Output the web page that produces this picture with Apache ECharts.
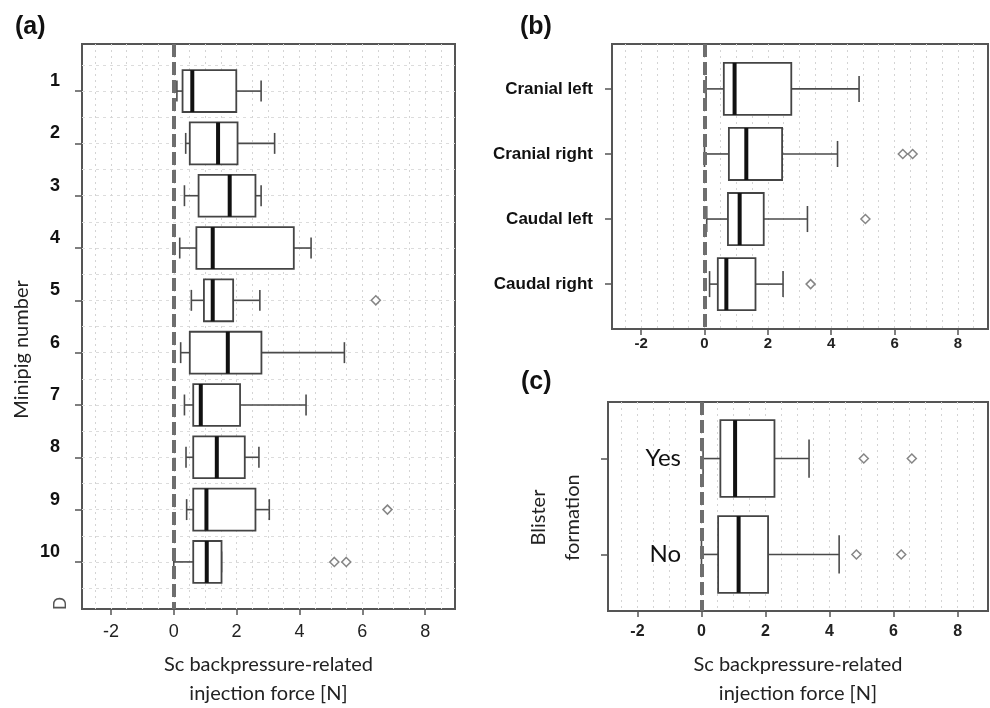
<!DOCTYPE html>
<html>
<head>
<meta charset="utf-8">
<script src="https://cdn.jsdelivr.net/npm/echarts@6/dist/echarts.min.js"></script>
<style>
  html, body { margin: 0; padding: 0; background: #fff; }
  #chart { width: 990px; height: 708px; }
</style>
</head>
<body>
<div id="chart"></div>
<script>
// (a) minipigs
var pigLabels = ['1', '2', '3', '4', '5', '6', '7', '8', '9', '10'];
var pigLow = [0.10, 0.38, 0.34, 0.19, 0.56, 0.22, 0.34, 0.39, 0.41, 0.00];
var pigQ1 = [0.28, 0.51, 0.79, 0.72, 0.96, 0.51, 0.62, 0.62, 0.62, 0.62];
var pigMedian = [0.59, 1.41, 1.78, 1.24, 1.24, 1.72, 0.86, 1.37, 1.04, 1.05];
var pigQ3 = [1.99, 2.03, 2.60, 3.82, 1.89, 2.79, 2.11, 2.26, 2.60, 1.52];
var pigHigh = [2.78, 3.21, 2.78, 4.37, 2.74, 5.43, 4.21, 2.71, 3.04, 1.52];
var pigOutlierPos = [5, 9, 10, 10];
var pigOutlierVal = [6.43, 6.80, 5.11, 5.49];

// (b) injection sites
var siteLabels = ['Cranial left', 'Cranial right', 'Caudal left', 'Caudal right'];
var siteLow = [0.05, 0.00, 0.07, 0.16];
var siteQ1 = [0.61, 0.77, 0.74, 0.42];
var siteMedian = [0.95, 1.32, 1.11, 0.69];
var siteQ3 = [2.74, 2.45, 1.87, 1.61];
var siteHigh = [4.88, 4.20, 3.25, 2.48];
var siteOutlierPos = [2, 2, 3, 4];
var siteOutlierVal = [6.26, 6.57, 5.08, 3.35];

// (c) blister formation
var blisterLabels = ['Yes', 'No'];
var blisterLow = [0.05, 0.00];
var blisterQ1 = [0.59, 0.52];
var blisterMedian = [1.05, 1.16];
var blisterQ3 = [2.28, 2.08];
var blisterHigh = [3.36, 4.30];
var blisterOutlierPos = [1, 1, 2, 2];
var blisterOutlierVal = [5.07, 6.57, 4.84, 6.24];

// ticks and dotted grid
var xTicks = [-2, 0, 2, 4, 6, 8];
var xGridValues = [-2.5, -2, -1.5, -1, -0.5, 0, 0.5, 1, 1.5, 2, 2.5, 3, 3.5, 4, 4.5, 5, 5.5, 6, 6.5, 7, 7.5, 8, 8.5];
var pigTicks = [1, 2, 3, 4, 5, 6, 7, 8, 9, 10];
var pigGridValues = [0.5, 1, 1.5, 2, 2.5, 3, 3.5, 4, 4.5, 5, 5.5, 6, 6.5, 7, 7.5, 8, 8.5, 9, 9.5, 10, 10.5];
var siteTicks = [1, 2, 3, 4];
var blisterTicks = [1, 2];

var X_MIN = -2.92, X_MAX = 8.95;
var SANS = 'Liberation Sans';
var SOFT = 'Lato';

function boxData(low, q1, med, q3, high) {
  return low.map(function (v, i) {
    return [i + 1, low[i], q1[i], med[i], q3[i], high[i]];
  });
}

function pairs(pos, val) {
  return pos.map(function (p, i) { return [val[i], p]; });
}

function renderBox(params, api) {
  var pos = api.value(0);
  var lo = api.coord([api.value(1), pos]);
  var q1 = api.coord([api.value(2), pos]);
  var md = api.coord([api.value(3), pos]);
  var q3 = api.coord([api.value(4), pos]);
  var hi = api.coord([api.value(5), pos]);
  var h = Math.abs(api.size([0, 0.8])[1]);
  var c = Math.abs(api.size([0, 0.4])[1]);
  var y = lo[1];
  var thin = { stroke: '#4a4a4a', lineWidth: 1.6 };
  return {
    type: 'group',
    children: [
      { type: 'line', shape: { x1: lo[0], y1: y, x2: q1[0], y2: y }, style: thin },
      { type: 'line', shape: { x1: q3[0], y1: y, x2: hi[0], y2: y }, style: thin },
      { type: 'line', shape: { x1: lo[0], y1: y - c / 2, x2: lo[0], y2: y + c / 2 }, style: thin },
      { type: 'line', shape: { x1: hi[0], y1: y - c / 2, x2: hi[0], y2: y + c / 2 }, style: thin },
      { type: 'rect', shape: { x: q1[0], y: y - h / 2, width: q3[0] - q1[0], height: h },
        style: { fill: '#fff', stroke: '#444', lineWidth: 1.8 } },
      { type: 'line', shape: { x1: md[0], y1: y - h / 2, x2: md[0], y2: y + h / 2 },
        style: { stroke: '#111', lineWidth: 4 } }
    ]
  };
}

function mainX(grid, fontSize, bold, margin, nameGap) {
  return {
    type: 'value', gridIndex: grid, min: X_MIN, max: X_MAX,
    axisLine: { show: false, onZero: false },
    axisTick: { show: true, length: 6, customValues: xTicks, lineStyle: { color: '#555', width: 1.5 } },
    axisLabel: { customValues: xTicks, margin: margin, color: '#222', fontSize: fontSize,
      fontFamily: SANS, fontWeight: bold ? 'bold' : 'normal' },
    splitLine: { show: false },
    name: nameGap ? 'Sc backpressure-related\ninjection force [N]' : '',
    nameLocation: 'middle', nameGap: nameGap || 0,
    nameTextStyle: { fontFamily: SOFT, fontSize: 20, color: '#222', lineHeight: 29 }
  };
}

function gridX(grid) {
  return {
    type: 'value', gridIndex: grid, min: X_MIN, max: X_MAX,
    axisLine: { show: false, onZero: false }, axisLabel: { show: false },
    axisTick: { show: false, customValues: xGridValues },
    splitLine: { show: true, lineStyle: { color: '#d4d4d4', width: 1, type: [2, 4] } }
  };
}

function zeroLine() {
  return {
    silent: true, symbol: 'none', label: { show: false },
    lineStyle: { color: '#6e6e6e', width: 4, type: [13, 5] },
    data: [{ xAxis: 0 }]
  };
}

function outlierSeries(axis, pos, val) {
  return {
    type: 'scatter', xAxisIndex: axis, yAxisIndex: axis,
    symbol: 'diamond', symbolSize: 9,
    itemStyle: { color: '#fff', borderColor: '#666', borderWidth: 1.5 },
    data: pairs(pos, val), z: 3,
    markLine: zeroLine()
  };
}

var titleStyle = { fontFamily: SANS, fontSize: 25, fontWeight: 'bold', color: '#111' };
var frame = { show: true, borderColor: '#555', borderWidth: 2, backgroundColor: 'transparent',
  containLabel: false, outerBoundsMode: 'none' };

var chart = echarts.init(document.getElementById('chart'));
var option = {
  animation: false,
  backgroundColor: '#fff',
  title: [
    { text: '(a)', left: 10, top: 10, textStyle: titleStyle },
    { text: '(b)', left: 515, top: 10, textStyle: titleStyle },
    { text: '(c)', left: 516, top: 365, textStyle: titleStyle }
  ],
  grid: [
    Object.assign({ left: 82, top: 44, width: 373, height: 565 }, frame),
    Object.assign({ left: 612, top: 44, width: 376, height: 285 }, frame),
    Object.assign({ left: 608, top: 402, width: 380, height: 209 }, frame)
  ],
  xAxis: [
    mainX(0, 18, false, 14, 41),
    mainX(1, 15, true, 7, 0),
    mainX(2, 16, true, 13, 39),
    gridX(0), gridX(1), gridX(2)
  ],
  yAxis: [
    {
      type: 'value', gridIndex: 0, min: 0.1, max: 10.9, inverse: true,
      axisLine: { show: false, onZero: false },
      axisTick: { show: true, length: 7, customValues: pigTicks, lineStyle: { color: '#555', width: 1.5 } },
      axisLabel: { customValues: pigTicks, margin: 22, color: '#111', fontSize: 18, fontWeight: 'bold',
        fontFamily: SANS, verticalAlign: 'bottom', padding: [0, 0, 1, 0],
        formatter: function (v) { return pigLabels[Math.round(v) - 1]; } },
      splitLine: { show: false },
      name: 'Minipig number', nameLocation: 'middle', nameGap: 50,
      nameTextStyle: { fontFamily: SOFT, fontSize: 20, color: '#222', padding: [0, 46, 0, 0] }
    },
    {
      type: 'value', gridIndex: 1, min: 0.31, max: 4.69, inverse: true,
      axisLine: { show: false, onZero: false },
      axisTick: { show: true, length: 7, customValues: siteTicks, lineStyle: { color: '#555', width: 1.5 } },
      axisLabel: { customValues: siteTicks, margin: 19, color: '#111', fontSize: 17, fontWeight: 'bold',
        fontFamily: SANS,
        formatter: function (v) { return siteLabels[Math.round(v) - 1]; } },
      splitLine: { show: false }
    },
    {
      type: 'value', gridIndex: 2, min: 0.41, max: 2.59, inverse: true,
      axisLine: { show: false, onZero: false },
      axisTick: { show: true, length: 7, customValues: blisterTicks, lineStyle: { color: '#555', width: 1.5 } },
      axisLabel: { customValues: blisterTicks, margin: -73, color: '#111', fontSize: 24,
        fontFamily: SOFT,
        formatter: function (v) { return blisterLabels[Math.round(v) - 1]; } },
      splitLine: { show: false },
      name: 'Blister\nformation', nameLocation: 'middle', nameGap: 18,
      nameTextStyle: { fontFamily: SOFT, fontSize: 20, color: '#222', lineHeight: 34, padding: [0, 22, 0, 0] }
    },
    {
      type: 'value', gridIndex: 0, min: 0.1, max: 10.9, inverse: true,
      axisLine: { show: false, onZero: false }, axisLabel: { show: false },
      axisTick: { show: false, customValues: pigGridValues },
      splitLine: { show: true, lineStyle: { color: '#dcdcdc', width: 1, type: [3, 4] } }
    }
  ],
  series: [
    { type: 'custom', xAxisIndex: 0, yAxisIndex: 0, renderItem: renderBox,
      encode: { x: [1, 2, 3, 4, 5], y: 0 },
      data: boxData(pigLow, pigQ1, pigMedian, pigQ3, pigHigh), z: 4 },
    outlierSeries(0, pigOutlierPos, pigOutlierVal),
    { type: 'custom', xAxisIndex: 1, yAxisIndex: 1, renderItem: renderBox,
      encode: { x: [1, 2, 3, 4, 5], y: 0 },
      data: boxData(siteLow, siteQ1, siteMedian, siteQ3, siteHigh), z: 4 },
    outlierSeries(1, siteOutlierPos, siteOutlierVal),
    { type: 'custom', xAxisIndex: 2, yAxisIndex: 2, renderItem: renderBox,
      encode: { x: [1, 2, 3, 4, 5], y: 0 },
      data: boxData(blisterLow, blisterQ1, blisterMedian, blisterQ3, blisterHigh), z: 4 },
    outlierSeries(2, blisterOutlierPos, blisterOutlierVal)
  ],
  graphic: [
    { type: 'text', x: 52, y: 610, rotation: Math.PI / 2,
      style: { text: 'D', fontFamily: SANS, fontSize: 18, fill: '#555' } }
  ]
};
chart.setOption(option);
</script>
</body>
</html>
